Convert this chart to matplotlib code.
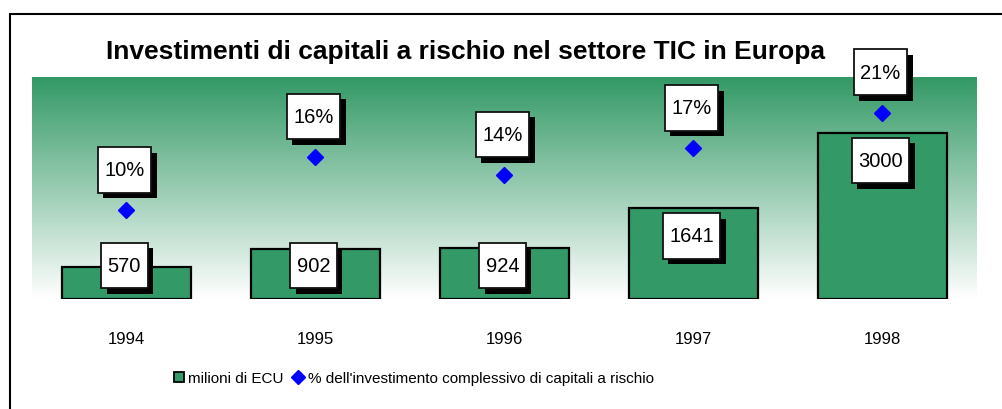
import numpy as np
import matplotlib
matplotlib.use("Agg")
import matplotlib.pyplot as plt
from matplotlib.path import Path
from matplotlib.lines import Line2D
from matplotlib.patches import Rectangle
from matplotlib.colors import LinearSegmentedColormap
import matplotlib.patheffects as pe

# dati
anni = ['1994', '1995', '1996', '1997', '1998']
milioni_ecu = [570, 902, 924, 1641, 3000]
quota_pct = [10, 16, 14, 17, 21]

verde = '#339966'
blu = '#0000ff'
font = 'Liberation Sans'

W, H = 1002, 410
fig = plt.figure(figsize=(W / 100, H / 100), dpi=100)
fig.set_facecolor('white')

# area del grafico
ax = fig.add_axes([32 / W, 1 - 300 / H, 945 / W, 222 / H])
x = np.arange(len(anni))

# sfondo sfumato verde -> bianco
cmap = LinearSegmentedColormap.from_list('sfondo', ['white', verde])
grad = np.linspace(0, 1, 256).reshape(-1, 1)
ax.imshow(grad, extent=[0, 1, 0, 1], transform=ax.transAxes, aspect='auto',
          origin='lower', cmap=cmap, zorder=0)

ax.bar(x, milioni_ecu, width=0.68, color=verde, edgecolor='black',
       linewidth=1.6, zorder=2)
ax.set_xlim(-0.5, len(anni) - 0.5)
ax.set_ylim(0, 4000)

ax2 = ax.twinx()
ax2.set_ylim(0, 25)
ax2.plot(x, quota_pct, linestyle='none', marker='D', color=blu,
         markersize=8.5, zorder=3)


# riquadro delle etichette: piu' alto che largo
def riquadro(x0, y0, width, height, mutation_size):
    padx = 0.32 * mutation_size
    pady = 0.66 * mutation_size
    x0, y0 = x0 - padx, y0 - pady
    x1, y1 = x0 + width + 2 * padx, y0 + height + 2 * pady
    return Path([(x0, y0), (x1, y0), (x1, y1), (x0, y1), (x0, y0)],
                closed=True)


def etichetta(asse, xv, yv, testo, dy=0):
    t = asse.annotate(testo, xy=(xv, yv), xytext=(-1.5, dy),
                      textcoords='offset points', ha='center', va='center',
                      fontsize=14.5, family=font, zorder=5,
                      bbox=dict(boxstyle=riquadro, fc='white', ec='#111111',
                                lw=1.3))
    t.get_bbox_patch().set_path_effects([
        pe.SimplePatchShadow(offset=(4, -4), shadow_rgbFace='black', alpha=1),
        pe.Normal()])
    return t


# valori dentro le barre (spostati in su se la barra e' bassa)
for xi, v in zip(x, milioni_ecu):
    etichetta(ax, xi, max(v - 505, 600), str(v))

for xi, p in zip(x, quota_pct):
    etichetta(ax2, xi, p, f'{p}%', dy=29)

ax.set_xticks(x, anni)
ax.tick_params(axis='x', length=0, pad=23, labelsize=12)
for lab in ax.get_xticklabels():
    lab.set_family(font)
ax.set_yticks([])
ax2.set_yticks([])
for a in (ax, ax2):
    for s in a.spines.values():
        s.set_visible(False)

fig.text(466 / W, 1 - 52 / H,
         'Investimenti di capitali a rischio nel settore TIC in Europa',
         ha='center', va='center', fontsize=19, fontweight='bold',
         family=font)

handles = [
    Line2D([], [], linestyle='none', marker='s', mfc=verde, mec='black',
           mew=1.3, markersize=7.5),
    Line2D([], [], linestyle='none', marker='D', color=blu, markersize=7.5),
]
fig.legend(handles, ['milioni di ECU',
                     "% dell'investimento complessivo di capitali a rischio"],
           loc='center', bbox_to_anchor=(413 / W, 1 - 379 / H), ncol=2,
           frameon=False, handlelength=0.8, handletextpad=0.2,
           columnspacing=0.6, prop={'family': font, 'size': 11})

# cornice esterna (tagliata a destra e in basso)
fig.add_artist(Rectangle((10 / W, -0.1), 1.2, 1.1 - 15 / H,
                         transform=fig.transFigure, fill=False,
                         ec='black', lw=1.5))

fig.savefig('out.png', dpi=100)
